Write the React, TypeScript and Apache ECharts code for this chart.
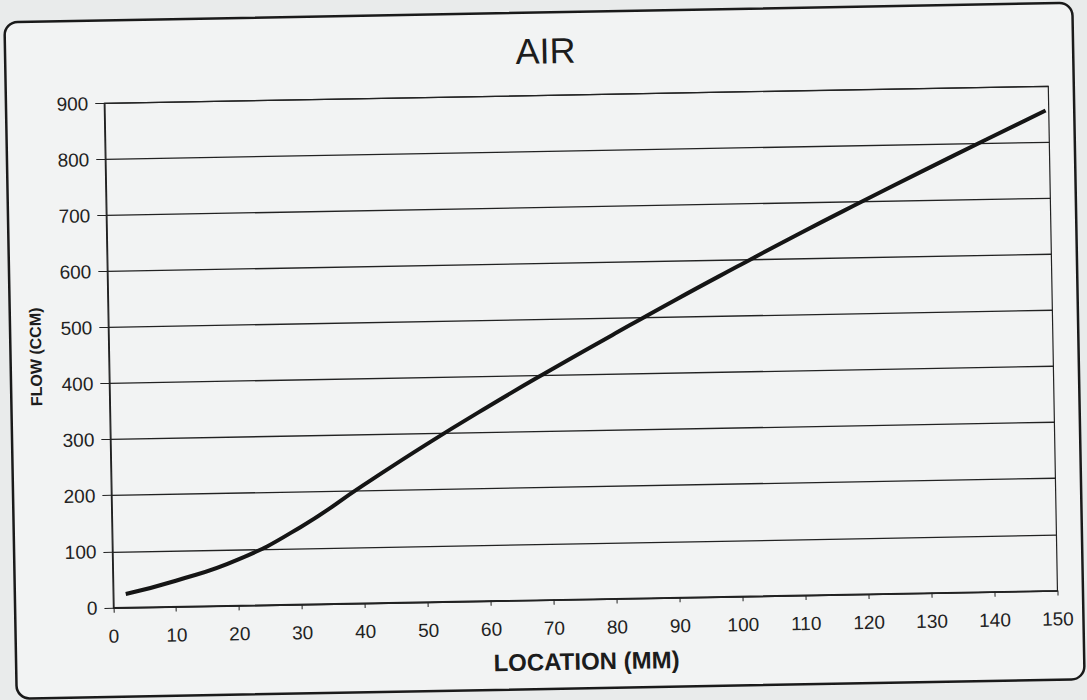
import React, { useEffect, useRef } from "react";
import * as echarts from "echarts";

const locations = [2, 10, 20, 30, 40, 50, 60, 70, 80, 90, 100, 110, 120, 130, 140, 149.5];
const flows = [24, 46, 82, 138, 210, 280, 346, 409, 470, 530, 588, 645, 700, 754, 807, 857];
const chartTitle = "AIR";
const xName = "LOCATION (MM)";
const yName = "FLOW (CCM)";

export default function App() {
  const ref = useRef<HTMLDivElement>(null);
  useEffect(() => {
    if (!ref.current) return;
    const chart = echarts.init(ref.current, null, { renderer: "svg", width: 1087, height: 700 });
    const font = "'Liberation Sans', Arial, sans-serif";
    chart.setOption({
      animation: false,
      backgroundColor: "transparent",
      graphic: [
        {
          type: "rect",
          z: -10,
          shape: { x: 10.5, y: 12.5, width: 1068, height: 676.5, r: 13 },
          style: { fill: "#f2f3f3", stroke: "#1a1a1a", lineWidth: 2.5 },
        },
      ],
      title: {
        text: chartTitle,
        left: 516,
        top: 28,
        textStyle: { fontFamily: font, fontSize: 36, fontWeight: "normal", color: "#1c1c1c" },
      },
      grid: {
        left: 108.8,
        right: 34,
        top: 95.5,
        bottom: 100.2,
        show: true,
        borderColor: "#222",
        borderWidth: 1.2,
        backgroundColor: "transparent",
      },
      xAxis: {
        type: "value",
        min: 0,
        max: 150,
        interval: 10,
        name: xName,
        nameLocation: "middle",
        nameGap: 50,
        nameTextStyle: { fontFamily: font, fontSize: 24, fontWeight: "bold", color: "#1c1c1c" },
        axisLine: { show: true, lineStyle: { color: "#222", width: 1.2 } },
        axisTick: { show: true, length: 5, lineStyle: { color: "#222" } },
        axisLabel: { fontFamily: font, fontSize: 19, color: "#222", margin: 19 },
        splitLine: { show: false },
      },
      yAxis: {
        type: "value",
        min: 0,
        max: 900,
        interval: 100,
        name: yName,
        nameLocation: "middle",
        nameGap: 65,
        nameTextStyle: { fontFamily: font, fontSize: 16, fontWeight: "bold", color: "#1c1c1c" },
        axisLine: { show: true, lineStyle: { color: "#222", width: 1.2 } },
        axisTick: { show: true, length: 9, lineStyle: { color: "#222" } },
        axisLabel: { fontFamily: font, fontSize: 19, color: "#222", margin: 16 },
        splitLine: { show: true, lineStyle: { color: "#222", width: 1.3 } },
      },
      series: [
        {
          type: "line",
          data: locations.map((x, i) => [x, flows[i]]),
          smooth: 0.5,
          showSymbol: false,
          lineStyle: { color: "#151515", width: 4 },
        },
      ],
    });
    return () => chart.dispose();
  }, []);
  return (
    <div
      style={{
        position: "fixed",
        left: 0,
        top: 0,
        width: 1087,
        height: 700,
        overflow: "hidden",
        background: "#e9ebeb",
      }}
    >
      <div
        ref={ref}
        style={{
          position: "absolute",
          left: 0,
          top: 0,
          width: 1087,
          height: 700,
          transform: "rotate(-1.04deg)",
          transformOrigin: "543.5px 350px",
        }}
      />
    </div>
  );
}
